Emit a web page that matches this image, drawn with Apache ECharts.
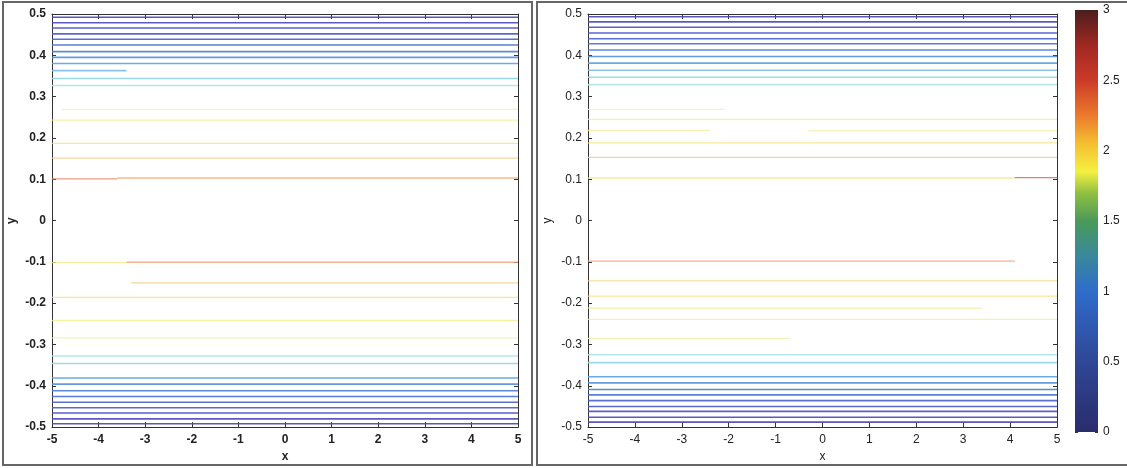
<!DOCTYPE html>
<html>
<head>
<meta charset="utf-8">
<script src="https://cdn.jsdelivr.net/npm/echarts@6/dist/echarts.min.js"></script>
<style>html,body{margin:0;padding:0;background:#fff;}#c{width:1127px;height:468px;}</style>
</head>
<body>
<div id="c"></div>
<script>
// ---------------- DATA ----------------
// Left panel contour lines: y position, contour level, x start, x end
const leftY  = [0.492,0.479,0.466,0.452,0.439,0.425,0.409,0.395,0.380,0.363,0.344,0.327,0.269,0.243,0.187,0.151,0.101,0.103,
                -0.102,-0.101,-0.151,-0.186,-0.242,-0.284,-0.328,-0.346,-0.381,-0.396,-0.412,-0.426,-0.440,-0.453,-0.466,-0.480,-0.492];
const leftV  = [0.15,0.3,0.45,0.6,0.75,0.9,1.0,1.1,1.2,1.3,1.4,1.5,1.8,1.9,2.0,2.1,2.4,2.25,
                1.95,2.3,2.1,2.0,1.9,1.8,1.5,1.4,1.2,1.1,1.0,0.9,0.75,0.6,0.45,0.3,0.15];
const leftX0 = [-5,-5,-5,-5,-5,-5,-5,-5,-5,-5,-5,-5,-4.8,-5,-5,-5,-5,-3.6,
                -5,-3.4,-3.3,-5,-5,-5,-5,-5,-5,-5,-5,-5,-5,-5,-5,-5,-5];
const leftX1 = [5,5,5,5,5,5,5,5,5,-3.4,5,5,5,5,5,5,-3.6,5,
                -3.4,5,5,5,5,5,5,5,5,5,5,5,5,5,5,5,5];

// Right panel contour lines
const rightY  = [0.4935,0.481,0.468,0.454,0.440,0.428,0.413,0.397,0.381,0.364,0.347,0.329,0.269,0.245,0.218,0.217,0.188,0.153,0.103,0.104,
                 -0.098,-0.146,-0.183,-0.212,-0.239,-0.285,-0.325,-0.344,-0.378,-0.393,-0.409,-0.422,-0.436,-0.450,-0.462,-0.476,-0.488];
const rightV  = [0.15,0.3,0.45,0.6,0.75,0.9,1.0,1.1,1.2,1.3,1.4,1.5,1.8,1.9,1.85,1.85,2.0,2.1,1.95,2.5,
                 2.3,2.05,2.0,1.9,1.85,1.8,1.5,1.4,1.2,1.1,1.0,0.9,0.75,0.6,0.45,0.3,0.15];
const rightX0 = [-5,-5,-5,-5,-5,-5,-5,-5,-5,-5,-5,-5,-5,-5,-5,-0.3,-5,-5,-5,4.1,
                 -5,-5,-5,-5,-5,-5,-5,-5,-5,-5,-5,-5,-5,-5,-5,-5,-5];
const rightX1 = [5,5,5,5,5,5,5,5,5,5,5,5,-2.1,5,-2.4,5,5,5,4.1,5,
                 4.1,5,5,3.4,5,-0.7,5,5,5,5,5,5,5,5,5,5,5];

// Tick labels
const xTicks = [-5,-4,-3,-2,-1,0,1,2,3,4,5];
const yTicks = [-0.5,-0.4,-0.3,-0.2,-0.1,0,0.1,0.2,0.3,0.4,0.5];
const cbTicks = [0,0.5,1,1.5,2,2.5,3];
const cbMax = 3;

// ---------------- STYLE ----------------
const lineStops = [
  [0.15,'#4d42b0'],[0.45,'#4a4cc6'],[0.75,'#4660cc'],[1.0,'#4a7cd8'],[1.2,'#5aa2e2'],
  [1.3,'#7cbde8'],[1.4,'#90d6e6'],[1.5,'#aee4e6'],[1.8,'#eef2a4'],[1.9,'#f3ee8c'],
  [2.0,'#f6e07a'],[2.1,'#f5c88a'],[2.3,'#efa070'],[2.5,'#e05a5a']
];
const cbStops = [
  [0,'#2a2c6c'],[0.5,'#2f4796'],[1.0,'#2f6ccb'],[1.25,'#3a889c'],[1.5,'#4a9a5a'],
  [1.7,'#90c040'],[1.85,'#f4f040'],[2.05,'#f4c030'],[2.25,'#ec7a2c'],[2.5,'#cc3a28'],
  [2.75,'#a02822'],[3,'#4a1e1e']
];
function hex(c){return [parseInt(c.substr(1,2),16),parseInt(c.substr(3,2),16),parseInt(c.substr(5,2),16)];}
function lineColor(v){
  if(v<=lineStops[0][0]) return lineStops[0][1];
  for(let i=1;i<lineStops.length;i++){
    if(v<=lineStops[i][0]){
      const a=lineStops[i-1],b=lineStops[i];
      const t=(v-a[0])/(b[0]-a[0]);
      const ca=hex(a[1]),cb=hex(b[1]);
      return 'rgb('+ca.map((x,k)=>Math.round(x+(cb[k]-x)*t)).join(',')+')';
    }
  }
  return lineStops[lineStops.length-1][1];
}

const font = 'Liberation Sans, Arial, Helvetica, sans-serif';
const panels = [
  {grid:{left:52,right:609,top:14,bottom:38}, ys:leftY, vs:leftV, x0:leftX0, x1:leftX1, bold:true},
  {grid:{left:588,right:70,top:14,bottom:38}, ys:rightY, vs:rightV, x0:rightX0, x1:rightX1, bold:false}
];

const grid=[], xAxis=[], yAxis=[], series=[];
panels.forEach((p,i)=>{
  grid.push(p.grid);
  const lbl = {fontSize:12, color:'#222', fontFamily:font, fontWeight:p.bold?'bold':'normal'};
  const axLine = {show:true, onZero:false, lineStyle:{color:'#333',width:1}};
  const tick = {show:true, inside:true, length:5, lineStyle:{color:'#333'}};
  xAxis.push({gridIndex:i,type:'value',min:xTicks[0],max:xTicks[xTicks.length-1],interval:1,position:'bottom',
    axisLine:axLine,axisTick:tick,splitLine:{show:false},
    axisLabel:Object.assign({margin:7},lbl),
    name:'x',nameLocation:'middle',nameGap:22,nameTextStyle:Object.assign({},lbl,{fontSize:12})});
  xAxis.push({gridIndex:i,type:'value',min:xTicks[0],max:xTicks[xTicks.length-1],interval:1,position:'top',
    axisLine:axLine,axisTick:tick,splitLine:{show:false},axisLabel:{show:false}});
  yAxis.push({gridIndex:i,type:'value',min:yTicks[0],max:yTicks[yTicks.length-1],interval:0.1,position:'left',
    axisLine:axLine,axisTick:Object.assign({},tick,{length:4}),splitLine:{show:false},
    axisLabel:Object.assign({margin:6},lbl),
    name:'y',nameLocation:'middle',nameGap:34,nameRotate:90,nameTextStyle:Object.assign({},lbl)});
  yAxis.push({gridIndex:i,type:'value',min:yTicks[0],max:yTicks[yTicks.length-1],interval:0.1,position:'right',
    axisLine:axLine,axisTick:Object.assign({},tick,{length:4}),splitLine:{show:false},axisLabel:{show:false}});
  for(let k=0;k<p.ys.length;k++){
    const v=p.vs[k];
    series.push({type:'line',xAxisIndex:2*i,yAxisIndex:2*i,silent:true,animation:false,
      showSymbol:false,symbol:'none',
      lineStyle:{color:lineColor(v),width:v<1.6?1.6:1.3,opacity:v<1.6?0.9:0.8},
      data:[[p.x0[k],p.ys[k]],[p.x1[k],p.ys[k]]]});
  }
});

// Colorbar
grid.push({left:1075,top:10,width:23,height:422});
xAxis.push({gridIndex:2,type:'category',data:[''],show:false});
yAxis.push({gridIndex:2,type:'value',min:cbTicks[0],max:cbMax,interval:0.5,position:'right',
  axisLine:{show:false,onZero:false},axisTick:{show:true,inside:true,length:3,lineStyle:{color:'#333'}},
  splitLine:{show:false},axisLabel:{margin:5,fontSize:12,color:'#222',fontFamily:font}});
yAxis.push({gridIndex:2,type:'value',min:cbTicks[0],max:cbMax,interval:0.5,position:'left',
  axisLine:{show:false,onZero:false},axisTick:{show:true,inside:true,length:3,lineStyle:{color:'#333'}},
  splitLine:{show:false},axisLabel:{show:false}});
series.push({type:'bar',xAxisIndex:4,yAxisIndex:4,barWidth:'100%',silent:true,animation:false,
  data:[cbMax],
  itemStyle:{color:new echarts.graphic.LinearGradient(0,0,0,1,
    cbStops.map(s=>({offset:1-s[0]/cbMax,color:s[1]})).reverse())}});

const chart = echarts.init(document.getElementById('c'),null,{renderer:'canvas'});
chart.setOption({
  backgroundColor:'#fff',
  animation:false,
  grid:grid, xAxis:xAxis, yAxis:yAxis, series:series,
  graphic:[
    {type:'rect',shape:{x:3,y:2,width:529,height:463},style:{fill:'none',stroke:'#666',lineWidth:2},silent:true},
    {type:'rect',shape:{x:537,y:2,width:600,height:463},style:{fill:'none',stroke:'#666',lineWidth:2},silent:true}
  ]
});
</script>
</body>
</html>
